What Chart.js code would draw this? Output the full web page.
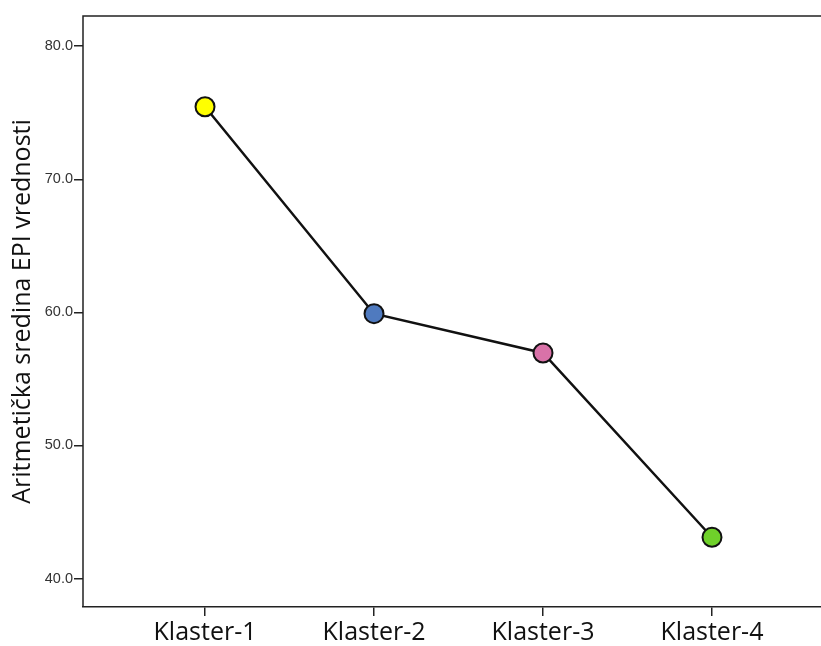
<!DOCTYPE html>
<html>
<head>
<meta charset="utf-8">
<script src="https://cdn.jsdelivr.net/npm/chart.js@4"></script>
<style>
  html, body { margin: 0; padding: 0; background: #fff; overflow: hidden; }
  #wrap { width: 821px; height: 646px; }
  canvas { display: block; }
</style>
</head>
<body>
<div id="wrap"><canvas id="chart" width="821" height="646"></canvas></div>
<script>
const categories = ['Klaster-1', 'Klaster-2', 'Klaster-3', 'Klaster-4'];
const meanValues = [75.45, 59.9, 56.95, 43.1];
const pointColors = ['#ffff00', '#4f7abf', '#d972a8', '#6fd12a'];
const yTicks = [40, 50, 60, 70, 80];
const yTitle = 'Aritmetička sredina EPI vrednosti';

// left and top frame lines of the plot area
const frameLines = {
    id: 'frameLines',
    afterDraw(chart) {
        const { ctx, chartArea } = chart;
        ctx.save();
        ctx.strokeStyle = '#222';
        ctx.lineWidth = 1.5;
        ctx.beginPath();
        ctx.moveTo(chartArea.right, chartArea.top);
        ctx.lineTo(chartArea.left, chartArea.top);
        ctx.lineTo(chartArea.left, chartArea.bottom);
        ctx.stroke();
        ctx.restore();
    }
};

const ctx = document.getElementById('chart').getContext('2d');
new Chart(ctx, {
    type: 'line',
    data: {
        datasets: [{
            data: meanValues.map((v, i) => ({ x: i + 1, y: v })),
            borderColor: '#111',
            borderWidth: 2.5,
            pointBackgroundColor: pointColors,
            pointBorderColor: '#111',
            pointBorderWidth: 2,
            pointRadius: 9.5,
            tension: 0,
            clip: false
        }]
    },
    options: {
        responsive: false,
        animation: false,
        plugins: { legend: { display: false }, tooltip: { enabled: false } },
        layout: { autoPadding: false, padding: { top: 16, right: 0, left: 0, bottom: 0 } },
        scales: {
            x: {
                type: 'linear',
                min: 0.278,
                max: 4.645,
                afterBuildTicks: s => { s.ticks = categories.map((c, i) => ({ value: i + 1 })); },
                afterFit: s => { s.height = 39; },
                grid: { drawOnChartArea: false, color: '#222', lineWidth: 1.5, tickLength: 9 },
                border: { color: '#222', width: 1.5 },
                ticks: {
                    callback: v => categories[v - 1],
                    color: '#111',
                    font: { family: 'Open Sans', size: 25 },
                    padding: 2,
                    maxRotation: 0
                }
            },
            y: {
                min: 37.86,
                max: 82.27,
                afterBuildTicks: s => { s.ticks = yTicks.map(v => ({ value: v })); },
                afterFit: s => { s.width = 83; },
                grid: { drawOnChartArea: false, color: '#222', lineWidth: 1.5, tickLength: 9 },
                border: { display: false },
                ticks: {
                    callback: v => v.toFixed(1),
                    color: '#333',
                    font: { family: 'Liberation Sans', size: 14.5 },
                    padding: 1
                },
                title: {
                    display: true,
                    text: yTitle,
                    color: '#111',
                    font: { family: 'Open Sans', size: 25 },
                    padding: { top: 8, bottom: 2 }
                }
            }
        }
    },
    plugins: [frameLines]
});
</script>
</body>
</html>
